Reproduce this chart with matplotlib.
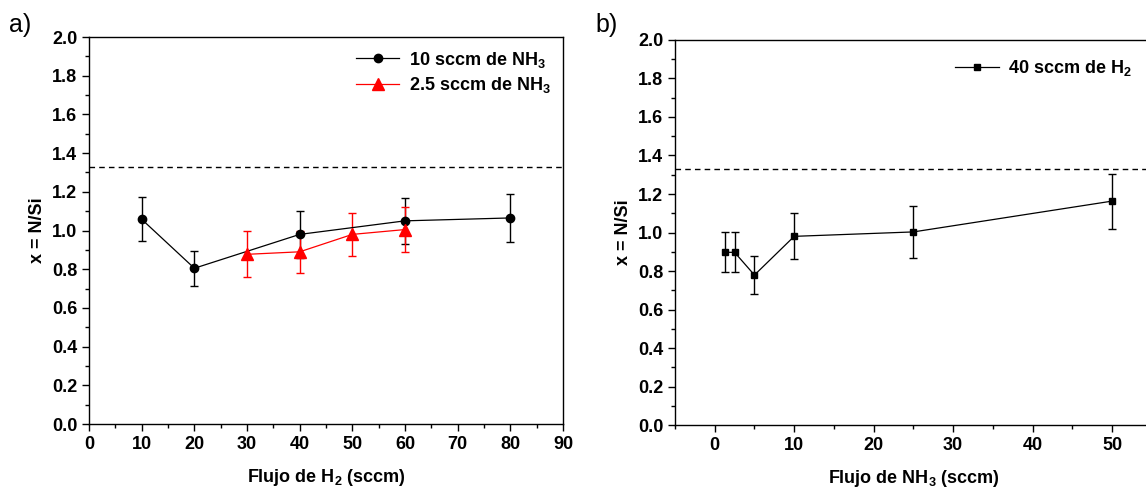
import matplotlib.pyplot as plt

plt.rcParams['font.family'] = ['Liberation Sans', 'DejaVu Sans']
plt.rcParams['mathtext.fontset'] = 'custom'
plt.rcParams['mathtext.rm'] = 'Liberation Sans'
plt.rcParams['mathtext.bf'] = 'Liberation Sans:bold'

# panel a) - flujo de H2
h2_10 = [10, 20, 40, 60, 80]
x_10 = [1.058, 0.805, 0.980, 1.050, 1.065]
err_10 = [0.114, 0.090, 0.120, 0.120, 0.123]

h2_25 = [30, 40, 50, 60]
x_25 = [0.877, 0.890, 0.980, 1.005]
err_25 = [0.118, 0.108, 0.110, 0.117]

# panel b) - flujo de NH3
nh3 = [1.25, 2.5, 5, 10, 25, 50]
x_40 = [0.897, 0.897, 0.779, 0.980, 1.003, 1.163]
err_40 = [0.104, 0.104, 0.097, 0.120, 0.135, 0.143]

estequiometrico = 1.33

fig = plt.figure(figsize=(11.46, 4.95), dpi=100)
axa = fig.add_axes([0.0777, 0.1434, 0.4136, 0.7818])
axb = fig.add_axes([0.589, 0.1414, 0.416, 0.7778])

def estilo(ax):
    ax.set_ylim(0, 2.0)
    ax.set_yticks([0.0, 0.2, 0.4, 0.6, 0.8, 1.0, 1.2, 1.4, 1.6, 1.8, 2.0])
    ax.set_yticks([0.1, 0.3, 0.5, 0.7, 0.9, 1.1, 1.3, 1.5, 1.7, 1.9], minor=True)
    ax.set_yticklabels(['%.1f' % v for v in ax.get_yticks()], fontweight='bold', fontsize=13)
    ax.set_xticklabels([str(int(v)) for v in ax.get_xticks()], fontweight='bold', fontsize=13)
    ax.tick_params(which='major', direction='out', length=5, width=1)
    ax.tick_params(which='minor', direction='out', length=3, width=1)
    for sp in ax.spines.values():
        sp.set_linewidth(1)
    ax.axhline(estequiometrico, color='black', linestyle=(0, (4, 3)), linewidth=1)
    ax.set_ylabel('x = N/Si', fontsize=13, fontweight='bold')

# GRAFICO a)
c1 = axa.errorbar(h2_10, x_10, yerr=err_10, color='black', marker='o', markersize=6,
                  linewidth=0.9, capsize=3, elinewidth=1)
c2 = axa.errorbar(h2_25, x_25, yerr=err_25, color='red', marker='^', markersize=8,
                  linewidth=0.9, capsize=3, elinewidth=1)
axa.set_xlim(0, 90)
axa.set_xticks(range(0, 91, 10))
axa.set_xticks(range(5, 90, 10), minor=True)
estilo(axa)
axa.set_xlabel(r'Flujo de $\mathbf{H_2}$ (sccm)', fontsize=13, fontweight='bold', labelpad=10)
axa.legend([c1[0], c2[0]], [r'10 sccm de $\mathbf{NH_3}$', r'2.5 sccm de $\mathbf{NH_3}$'],
           loc='upper right', frameon=False, prop={'size': 13, 'weight': 'bold'},
           handlelength=2.4, borderaxespad=0.3, labelspacing=0.3, handletextpad=0.5)
fig.text(0.008, 0.935, 'a)', fontsize=18)

# GRAFICO b)
c3 = axb.errorbar(nh3, x_40, yerr=err_40, color='black', marker='s', markersize=5,
                  linewidth=0.9, capsize=3, elinewidth=1)
axb.set_xlim(-5, 55)
axb.set_xticks(range(0, 51, 10))
axb.set_xticks(range(-5, 56, 10), minor=True)
estilo(axb)
axb.set_xlabel(r'Flujo de $\mathbf{NH_3}$ (sccm)', fontsize=13, fontweight='bold', labelpad=10)
axb.legend([c3[0]], [r'40 sccm de $\mathbf{H_2}$'], loc='upper right', frameon=False,
           prop={'size': 13, 'weight': 'bold'}, handlelength=2.4, handletextpad=0.5,
           borderaxespad=0.6, bbox_to_anchor=(0.995, 1.0))
fig.text(0.52, 0.935, 'b)', fontsize=18)

plt.savefig('out.png', dpi=100)
